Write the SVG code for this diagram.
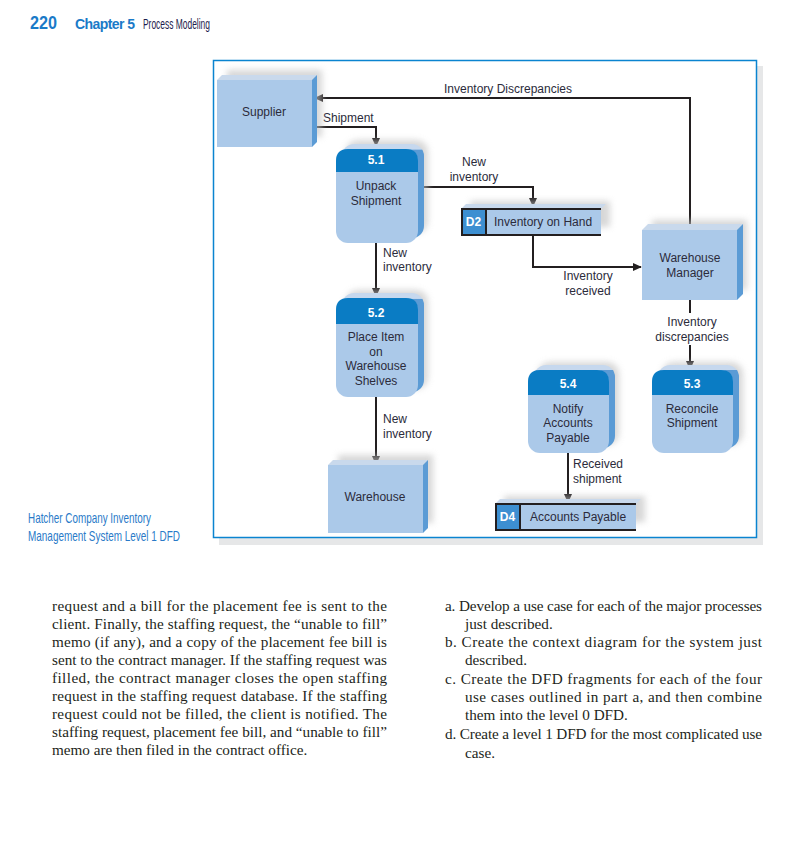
<svg xmlns="http://www.w3.org/2000/svg" width="812" height="856" viewBox="0 0 812 856">
<defs>
<filter id="blur" x="-20%" y="-20%" width="140%" height="140%"><feGaussianBlur stdDeviation="3"/></filter>
<marker id="ah" viewBox="0 0 10 10" refX="9" refY="5" markerWidth="4.5" markerHeight="4.5" orient="auto" markerUnits="strokeWidth"><path d="M0,0.5 L10,5 L0,9.5 z" fill="#231f20"/></marker>
<linearGradient id="depth" x1="0" y1="0" x2="0" y2="1"><stop offset="0" stop-color="#c6d8ee"/><stop offset="0.055" stop-color="#c6d8ee"/><stop offset="0.065" stop-color="#5b9bd5"/><stop offset="1" stop-color="#5b9bd5"/></linearGradient>
</defs>
<style>
.shadow{fill:#bdbdbd;opacity:.6;filter:url(#blur)}
.front{fill:#abc9e9}
.top{fill:#c9d9ec}
.side{fill:#5b9bd5}
.hdr{fill:#0a7cc4}
.dep{fill:url(#depth)}
.num{font-family:"Liberation Sans",Arial,sans-serif;font-size:12px;font-weight:bold;fill:#fff;text-anchor:middle}
.lbl{font-family:"Liberation Sans",Arial,sans-serif;font-size:12px;fill:#2b2b3b}
.mid{text-anchor:middle}
.flow{fill:none;stroke:#231f20;stroke-width:2;marker-end:url(#ah)}
.dsb{fill:none;stroke:#231f20;stroke-width:2}
.body{font-family:"Liberation Serif","Times New Roman",serif;font-size:15.2px;fill:#231f20}
.cap{font-family:"Liberation Sans",Arial,sans-serif;font-size:15px;fill:#2a7ac8}
</style>
<rect width="812" height="856" fill="#fff"/>
<!-- header -->
<text x="30" y="29" font-family="Liberation Sans,Arial,sans-serif" font-size="19" font-weight="bold" fill="#1a7ac8" textLength="27" lengthAdjust="spacingAndGlyphs">220</text>
<text x="75" y="29" font-family="Liberation Sans,Arial,sans-serif" font-size="14" font-weight="bold" fill="#1a7ac8" textLength="60" lengthAdjust="spacing">Chapter 5</text>
<text x="143" y="29" font-family="Liberation Sans,Arial,sans-serif" font-size="15" fill="#1c1c4c" textLength="67" lengthAdjust="spacingAndGlyphs">Process Modeling</text>
<!-- frame -->
<rect x="219" y="66" width="544" height="479" fill="#e6e7e8"/>
<rect x="213.5" y="60.5" width="543" height="477" fill="#fff" stroke="#0a84d0" stroke-width="1.5"/>
<!-- connectors -->
<g id="connectors">
<path class="flow" d="M690,230 V98 H315"/>
<path class="flow" d="M312,127 H376 V146"/>
<path class="flow" d="M418,187 H533 V206"/>
<path class="flow" d="M533,235 V267 H641"/>
<path class="flow" d="M376,243 V296"/>
<path class="flow" d="M376,397 V464"/>
<path class="flow" d="M690,300 V313 M690,345 V369"/>
<path class="flow" d="M568,453 V502"/>
<text class="lbl mid" x="508" y="93">Inventory Discrepancies</text>
<text class="lbl" x="323" y="122">Shipment</text>
<text class="lbl mid" x="474" y="166">New</text>
<text class="lbl mid" x="474" y="181">inventory</text>
<text class="lbl mid" x="588" y="280">Inventory</text>
<text class="lbl mid" x="588" y="295">received</text>
<text class="lbl" x="383" y="257">New</text>
<text class="lbl" x="383" y="271">inventory</text>
<text class="lbl" x="383" y="423">New</text>
<text class="lbl" x="383" y="438">inventory</text>
<text class="lbl mid" x="692" y="326">Inventory</text>
<text class="lbl mid" x="692" y="341">discrepancies</text>
<text class="lbl" x="573" y="468">Received</text>
<text class="lbl" x="573" y="483">shipment</text>
</g>
<!-- Supplier -->
<g id="supplier">
<rect class="shadow" x="227" y="70" width="95" height="67"/>
<polygon class="top" points="217,80 222,75 317,75 312,80"/>
<polygon class="side" points="312,80 317,75 317,142 312,147"/>
<rect class="front" x="217" y="80" width="95" height="67"/>
<text class="lbl mid" x="264" y="116">Supplier</text>
</g>
<!-- Warehouse Manager -->
<g id="warehouse-manager">
<rect class="shadow" x="652" y="220" width="95" height="70"/>
<polygon class="top" points="642,230 648,224 743,224 737,230"/>
<polygon class="side" points="737,230 743,224 743,294 737,300"/>
<rect class="front" x="642" y="230" width="95" height="70"/>
<text class="lbl mid" x="690" y="262">Warehouse</text>
<text class="lbl mid" x="690" y="277">Manager</text>
</g>
<!-- Warehouse -->
<g id="warehouse">
<rect class="shadow" x="338" y="455" width="95" height="68"/>
<polygon class="top" points="328,465 333,460 428,460 423,465"/>
<polygon class="side" points="423,465 428,460 428,528 423,533"/>
<rect class="front" x="328" y="465" width="95" height="68"/>
<text class="lbl mid" x="375" y="501">Warehouse</text>
</g>
<!-- 5.1 -->
<g id="p51">
<rect class="shadow" x="346" y="140" width="82" height="93" rx="12"/>
<rect class="dep" x="342" y="144" width="82" height="94" rx="12"/>
<rect class="front" x="336" y="149" width="82" height="94" rx="12"/>
<path class="hdr" d="M336,172 V161 Q336,149 348,149 H406 Q418,149 418,161 V172 Z"/>
<text class="num" x="376" y="164">5.1</text>
<text class="lbl mid" x="376" y="190">Unpack</text>
<text class="lbl mid" x="376" y="205">Shipment</text>
</g>
<!-- 5.2 -->
<g id="p52">
<rect class="shadow" x="346" y="290" width="82" height="99" rx="12"/>
<rect class="dep" x="342" y="293" width="82" height="99" rx="12"/>
<rect class="front" x="336" y="298" width="82" height="99" rx="12"/>
<path class="hdr" d="M336,324 V310 Q336,298 348,298 H406 Q418,298 418,310 V324 Z"/>
<text class="num" x="376" y="317">5.2</text>
<text class="lbl mid" x="376" y="341">Place Item</text>
<text class="lbl mid" x="376" y="356">on</text>
<text class="lbl mid" x="376" y="370">Warehouse</text>
<text class="lbl mid" x="376" y="385">Shelves</text>
</g>
<!-- 5.4 -->
<g id="p54">
<rect class="shadow" x="538" y="362" width="81" height="83" rx="12"/>
<rect class="dep" x="534" y="365" width="81" height="83" rx="12"/>
<rect class="front" x="528" y="370" width="81" height="83" rx="12"/>
<path class="hdr" d="M528,395 V382 Q528,370 540,370 H597 Q609,370 609,382 V395 Z"/>
<text class="num" x="568" y="388">5.4</text>
<text class="lbl mid" x="568" y="413">Notify</text>
<text class="lbl mid" x="568" y="427">Accounts</text>
<text class="lbl mid" x="568" y="442">Payable</text>
</g>
<!-- 5.3 -->
<g id="p53">
<rect class="shadow" x="662" y="362" width="81" height="83" rx="12"/>
<rect class="dep" x="658" y="365" width="81" height="83" rx="12"/>
<rect class="front" x="652" y="370" width="81" height="83" rx="12"/>
<path class="hdr" d="M652,395 V382 Q652,370 664,370 H721 Q733,370 733,382 V395 Z"/>
<text class="num" x="692" y="388">5.3</text>
<text class="lbl mid" x="692" y="413">Reconcile</text>
<text class="lbl mid" x="692" y="427">Shipment</text>
</g>
<!-- D2 -->
<g id="d2">
<rect class="shadow" x="470" y="201" width="140" height="26"/>
<polygon class="top" points="461,209 466,204 606,204 601,209"/>
<rect class="front" x="461" y="209" width="140" height="26"/>
<rect fill="#3d8fd1" x="461" y="209" width="25" height="26"/>
<path class="dsb" d="M601,209 H462 V235 H601 M486,209 V235"/>
<text class="num" x="473.5" y="226">D2</text>
<text class="lbl" x="494" y="226">Inventory on Hand</text>
</g>
<!-- D4 -->
<g id="d4">
<rect class="shadow" x="504" y="496" width="141" height="26"/>
<polygon class="top" points="495,504 500,499 641,499 636,504"/>
<rect class="front" x="495" y="504" width="141" height="26"/>
<rect fill="#3d8fd1" x="495" y="504" width="25" height="26"/>
<path class="dsb" d="M636,504 H496 V530 H636 M520,504 V530"/>
<text class="num" x="507.5" y="521">D4</text>
<text class="lbl" x="530" y="521">Accounts Payable</text>
</g>
<!-- caption -->
<text class="cap" x="28" y="523" textLength="123" lengthAdjust="spacingAndGlyphs">Hatcher Company Inventory</text>
<text class="cap" x="28" y="541" textLength="152" lengthAdjust="spacingAndGlyphs">Management System Level 1 DFD</text>
<!-- body text left -->
<g class="body">
<text x="52" y="611" textLength="335" lengthAdjust="spacing">request and a bill for the placement fee is sent to the</text>
<text x="52" y="629" textLength="335" lengthAdjust="spacing">client. Finally, the staffing request, the “unable to fill”</text>
<text x="52" y="647" textLength="335" lengthAdjust="spacing">memo (if any), and a copy of the placement fee bill is</text>
<text x="52" y="665" textLength="335" lengthAdjust="spacing">sent to the contract manager. If the staffing request was</text>
<text x="52" y="683" textLength="335" lengthAdjust="spacing">filled, the contract manager closes the open staffing</text>
<text x="52" y="701" textLength="335" lengthAdjust="spacing">request in the staffing request database. If the staffing</text>
<text x="52" y="719" textLength="335" lengthAdjust="spacing">request could not be filled, the client is notified. The</text>
<text x="52" y="737" textLength="335" lengthAdjust="spacing">staffing request, placement fee bill, and “unable to fill”</text>
<text x="52" y="755">memo are then filed in the contract office.</text>
</g>
<!-- body text right -->
<g class="body">
<text x="445" y="611" textLength="317" lengthAdjust="spacing">a. Develop a use case for each of the major processes</text>
<text x="465" y="629">just described.</text>
<text x="445" y="647" textLength="317" lengthAdjust="spacing">b. Create the context diagram for the system just</text>
<text x="465" y="665">described.</text>
<text x="445" y="684" textLength="317" lengthAdjust="spacing">c. Create the DFD fragments for each of the four</text>
<text x="465" y="702" textLength="297" lengthAdjust="spacing">use cases outlined in part a, and then combine</text>
<text x="465" y="720">them into the level 0 DFD.</text>
<text x="445" y="739" textLength="317" lengthAdjust="spacing">d. Create a level 1 DFD for the most complicated use</text>
<text x="465" y="758">case.</text>
</g>
</svg>
